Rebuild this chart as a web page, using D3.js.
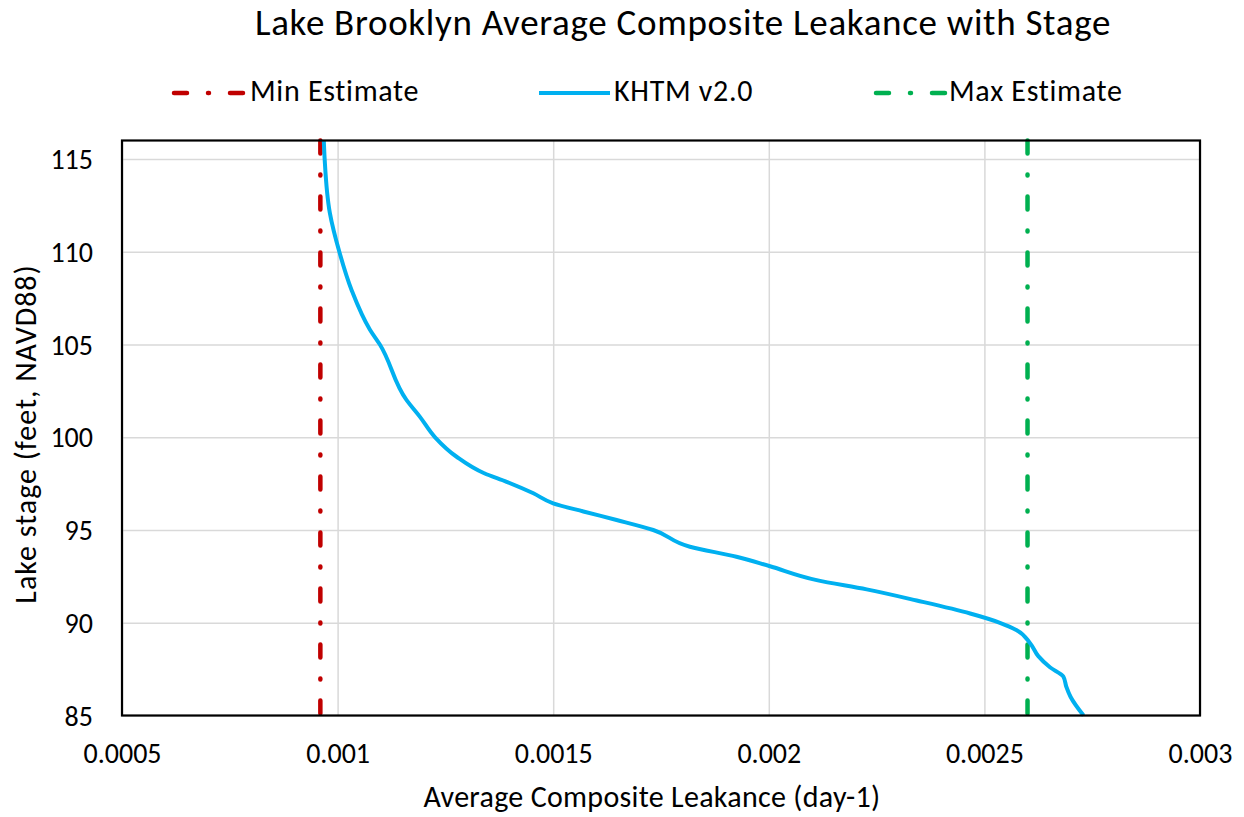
<!DOCTYPE html>
<html>
<head>
<meta charset="utf-8">
<script src="https://cdn.jsdelivr.net/npm/d3@7"></script>
<style>
  html, body { margin: 0; padding: 0; background: #fff; }
  svg { display: block; }
  svg text { font-family: Carlito, Lato, "Open Sans", sans-serif; }
</style>
</head>
<body>
<svg id="chart" width="1244" height="817"></svg>
<script>
// ---- data ----
const chartTitle = "Lake Brooklyn Average Composite Leakance with Stage";
const xAxisTitle = "Average Composite Leakance (day-1)";
const yAxisTitle = "Lake stage (feet, NAVD88)";

const xTicks = [0.0005, 0.001, 0.0015, 0.002, 0.0025, 0.003];
const xTickLabels = ["0.0005", "0.001", "0.0015", "0.002", "0.0025", "0.003"];
const yTicks = [85, 90, 95, 100, 105, 110, 115];
const yTickLabels = ["85", "90", "95", "100", "105", "110", "115"];

const seriesNames = ["Min Estimate", "KHTM v2.0", "Max Estimate"];

// KHTM v2.0 curve: stage (ft) and leakance (1/day)
const khtmStage = [85, 86, 86.55, 87.1, 87.6, 88.2, 88.9, 89.6, 90.0, 90.5, 91.2, 91.8, 92.3,
  93.06, 93.56, 94.1, 95.0, 95.54, 96.0, 96.44, 96.98, 97.6, 98.06, 98.95, 100.0, 101.1, 102.0,
  105.0, 105.8, 107.9, 110.0, 112.1, 115.0, 116.0];
const khtmLeakance = [0.00273, 0.00270, 0.00269, 0.002683, 0.002652, 0.002625, 0.002606, 0.002575,
  0.002536, 0.002467, 0.002343, 0.002227, 0.002111, 0.002001, 0.001925, 0.001817,
  0.001732, 0.001647, 0.00157, 0.0015, 0.001454, 0.001392, 0.00134, 0.001276, 0.001226, 0.001191,
  0.00116, 0.001098, 0.001075, 0.001033, 0.001004, 0.000982, 0.00097, 0.000968];

// Min / Max estimate vertical lines
const minStage = [85, 116];
const minLeakance = [0.00096, 0.00096];
const maxStage = [85, 116];
const maxLeakance = [0.0026, 0.0026];

// ---- layout ----
const svg = d3.select("#chart");
const plot = { left: 122, right: 1200, top: 140.5, bottom: 715.5 };
const W = plot.right - plot.left, H = plot.bottom - plot.top;

const x = d3.scaleLinear().domain([0.0005, 0.003]).range([0, W]);
const y = d3.scaleLinear().domain([85, 116]).range([H, 0]);

const colors = { min: "#C00000", khtm: "#00B0F0", max: "#00B050" };
const dashPattern = "13,21,1,21";
const TICK_FS = 28, LABEL_FS = 30;

const g = svg.append("g").attr("transform", `translate(${plot.left},${plot.top})`);

// gridlines via axes
const xAxis = d3.axisBottom(x).tickValues(xTicks)
  .tickFormat((d, i) => xTickLabels[i]).tickSize(-H).tickPadding(0);
const gx = g.append("g").attr("transform", `translate(0,${H})`).call(xAxis)
  .attr("font-family", null).attr("font-size", null);
gx.select(".domain").remove();
gx.selectAll(".tick line").attr("stroke", "#D9D9D9").attr("stroke-width", 1.5);
gx.selectAll(".tick text").attr("y", 47.5).attr("dy", 0)
  .attr("font-size", TICK_FS).attr("fill", "#000");

const yAxis = d3.axisLeft(y).tickValues(yTicks)
  .tickFormat((d, i) => yTickLabels[i]).tickSize(-W).tickPadding(0);
const gy = g.append("g").call(yAxis)
  .attr("font-family", null).attr("font-size", null);
gy.select(".domain").remove();
gy.selectAll(".tick line").attr("stroke", "#D9D9D9").attr("stroke-width", 1.5);
gy.selectAll(".tick text").attr("x", -29).attr("dy", "0.34em")
  .attr("font-size", TICK_FS).attr("fill", "#000");

// series
const line = d3.line().x(d => x(d[0])).y(d => y(d[1]));
const curve = d3.line().x(d => x(d[0])).y(d => y(d[1])).curve(d3.curveMonotoneY);

const minPts = d3.zip(minLeakance, minStage);
const maxPts = d3.zip(maxLeakance, maxStage);
const khtmPts = d3.zip(khtmLeakance, khtmStage);

g.append("path").datum(minPts).attr("d", line)
  .attr("fill", "none").attr("stroke", colors.min).attr("stroke-width", 4.5)
  .attr("stroke-linecap", "round").attr("stroke-dasharray", dashPattern).attr("stroke-dashoffset", -2);

g.append("path").datum(maxPts).attr("d", line)
  .attr("fill", "none").attr("stroke", colors.max).attr("stroke-width", 4.5)
  .attr("stroke-linecap", "round").attr("stroke-dasharray", dashPattern).attr("stroke-dashoffset", -2);

g.append("path").datum(khtmPts).attr("d", curve)
  .attr("fill", "none").attr("stroke", colors.khtm).attr("stroke-width", 4)
  .attr("stroke-linejoin", "round");

// plot border
g.append("rect").attr("x", 0).attr("y", 0).attr("width", W).attr("height", H)
  .attr("fill", "none").attr("stroke", "#000").attr("stroke-width", 2.2);

// title
svg.append("text").attr("x", 683).attr("y", 35).attr("text-anchor", "middle")
  .attr("font-size", 37).attr("letter-spacing", 0.7).attr("fill", "#000").text(chartTitle);

// axis titles
svg.append("text").attr("x", 652).attr("y", 807).attr("text-anchor", "middle")
  .attr("font-size", LABEL_FS).attr("letter-spacing", 0.3).attr("fill", "#000").text(xAxisTitle);
svg.append("text").attr("transform", "translate(36,434) rotate(-90)").attr("text-anchor", "middle")
  .attr("font-size", LABEL_FS).attr("letter-spacing", 1).attr("fill", "#000").text(yAxisTitle);

// legend
const legendItems = [
  { name: seriesNames[0], color: colors.min, dash: dashPattern, x0: 172, x1: 245, tx: 250 },
  { name: seriesNames[1], color: colors.khtm, dash: null, x0: 539, x1: 610, tx: 614 },
  { name: seriesNames[2], color: colors.max, dash: dashPattern, x0: 874, x1: 946, tx: 949 }
];
const lg = svg.append("g");
legendItems.forEach(it => {
  lg.append("line").attr("x1", it.x0 + (it.dash ? 2 : 0)).attr("x2", it.x1).attr("y1", 93).attr("y2", 93)
    .attr("stroke", it.color).attr("stroke-width", it.dash ? 4.5 : 4)
    .attr("stroke-linecap", it.dash ? "round" : "butt")
    .attr("stroke-dasharray", it.dash);
  lg.append("text").attr("x", it.tx).attr("y", 101).attr("font-size", LABEL_FS)
    .attr("letter-spacing", 0.7).attr("fill", "#000").text(it.name);
});
</script>
</body>
</html>
